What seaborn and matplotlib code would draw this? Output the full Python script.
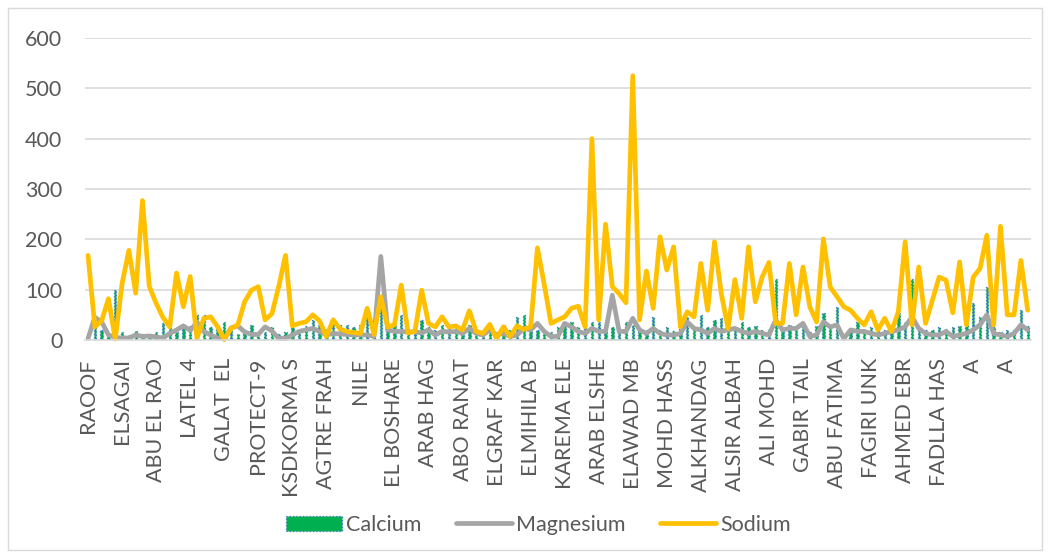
import numpy as np
import pandas as pd
import seaborn as sns
import matplotlib.pyplot as plt
from matplotlib.patches import Patch, Rectangle
from matplotlib.lines import Line2D

# every 5th well name is shown on the axis
tick_names = ["RAOOF", "ELSAGAI", "ABU EL RAO", "LATEL 4", "GALAT  EL", "PROTECT-9",
              "KSDKORMA S", "AGTRE FRAH", "NILE", "EL BOSHARE", "ARAB HAG", "ABO RANAT",
              "ELGRAF KAR", "ELMIHILA B", "KAREMA ELE", "ARAB ELSHE", "ELAWAD MB",
              "MOHD HASS", "ALKHANDAG", "ALSIR ALBAH", "ALI MOHD", "GABIR TAIL",
              "ABU FATIMA", "FAGIRI UNK", "AHMED EBR", "FADLLA HAS", "A", "A"]

calcium = [5, 25, 20, 10, 99, 15, 10, 18, 12, 8, 15, 33, 26, 15, 28, 28, 50, 50, 26, 28,
           36, 22, 12, 20, 30, 15, 15, 26, 12, 15, 25, 20, 28, 40, 30, 22, 32, 30, 30, 25,
           30, 45, 20, 70, 30, 30, 50, 20, 28, 40, 25, 20, 30, 25, 30, 20, 30, 20, 18, 28,
           15, 30, 20, 46, 50, 20, 20, 18, 15, 25, 30, 35, 25, 43, 36, 36, 20, 25, 20, 36,
           30, 15, 20, 46, 20, 25, 18, 22, 46, 20, 50, 25, 40, 43, 25, 25, 35, 25, 28, 20,
           22, 122, 20, 30, 25, 30, 15, 28, 53, 25, 66, 10, 20, 36, 20, 25, 20, 20, 30, 53,
           35, 122, 25, 20, 20, 25, 22, 25, 28, 30, 73, 45, 106, 25, 15, 20, 20, 59, 28]

magnesium = [3, 45, 36, 10, 5, 4, 4, 10, 7, 8, 6, 4, 13, 20, 28, 19, 35, 17, 10, 4,
             2, 24, 28, 16, 11, 11, 26, 18, 3, 3, 10, 17, 20, 23, 17, 10, 13, 12, 11, 10,
             10, 10, 7, 166, 20, 17, 17, 16, 16, 14, 20, 10, 17, 16, 17, 13, 23, 13, 10, 20,
             10, 13, 7, 10, 23, 20, 33, 17, 7, 7, 33, 26, 17, 13, 23, 17, 17, 89, 17, 17,
             43, 20, 13, 23, 13, 10, 10, 13, 36, 23, 20, 13, 23, 17, 20, 23, 17, 13, 17, 13,
             10, 40, 20, 23, 23, 33, 7, 10, 36, 26, 30, 3, 20, 17, 17, 13, 10, 13, 17, 20,
             26, 46, 23, 13, 10, 10, 17, 7, 10, 13, 20, 30, 50, 13, 10, 7, 13, 30, 20]

sodium = [168, 26, 38, 82, 2, 112, 178, 93, 277, 106, 73, 45, 26, 133, 66, 126, 3, 43, 46, 27,
          1, 23, 30, 76, 99, 106, 40, 52, 106, 168, 28, 33, 36, 50, 38, 7, 40, 22, 17, 15,
          13, 63, 11, 86, 26, 30, 109, 14, 17, 99, 33, 26, 46, 26, 28, 20, 58, 17, 13, 31,
          3, 26, 7, 28, 21, 26, 183, 110, 33, 40, 46, 63, 67, 26, 400, 40, 230, 106, 92, 74,
          525, 40, 137, 63, 205, 139, 185, 26, 56, 46, 152, 59, 195, 92, 23, 120, 43, 185, 76, 125,
          154, 33, 33, 152, 50, 145, 66, 36, 201, 105, 86, 66, 59, 43, 30, 56, 20, 43, 17, 56,
          195, 30, 145, 33, 79, 125, 119, 54, 155, 30, 125, 142, 208, 30, 226, 50, 50, 158, 59]

idx = np.arange(len(sodium))
df = pd.DataFrame({"site": idx, "Calcium": calcium, "Magnesium": magnesium, "Sodium": sodium})

sns.set_theme(style="white")
plt.rcParams['font.family'] = ['Lato', 'DejaVu Sans']

fig = plt.figure(figsize=(10.5, 5.59), dpi=100)
ax = fig.add_axes([0.0806, 0.3918, 0.9014, 0.5402])

sns.barplot(data=df, x="site", y="Calcium", color="#00B050", width=0.35, errorbar=None,
            edgecolor="#4472C4", linestyle=":", linewidth=0.9, saturation=1, ax=ax)
sns.lineplot(data=df, x="site", y="Magnesium", color="#A5A5A5", linewidth=3.4,
             solid_joinstyle="round", solid_capstyle="round", clip_on=False, ax=ax)
sns.lineplot(data=df, x="site", y="Sodium", color="#FFC000", linewidth=3.4,
             solid_joinstyle="round", solid_capstyle="round", clip_on=False, ax=ax)

ax.set_xlim(-0.5, len(idx) - 0.5)
ax.set_ylim(0, 600)
ax.set_yticks(range(0, 601, 100))
ax.set_xticks(range(0, len(idx), 5))
ax.set_xticklabels(tick_names, rotation=90)
ax.tick_params(axis="x", length=0, pad=13, labelsize=15.5, labelcolor="#595959")
ax.tick_params(axis="y", length=0, pad=16, labelsize=15.5, labelcolor="#595959")
ax.set_xlabel("")
ax.set_ylabel("")
ax.grid(axis="y", color="#D9D9D9", linewidth=1.2)
ax.set_axisbelow(True)
for s in ["top", "right", "left"]:
    ax.spines[s].set_visible(False)
ax.spines["bottom"].set_color("#D9D9D9")
ax.spines["bottom"].set_linewidth(1.2)

handles = [Patch(facecolor="#00B050", edgecolor="#4472C4", linestyle=":", linewidth=0.9),
           Line2D([], [], color="#A5A5A5", linewidth=3.4, solid_capstyle="round"),
           Line2D([], [], color="#FFC000", linewidth=3.4, solid_capstyle="round")]
fig.legend(handles, ["Calcium", "Magnesium", "Sodium"], loc="center", ncol=3,
           bbox_to_anchor=(0.513, 0.061), frameon=False, fontsize=15.5, labelcolor="#595959",
           handlelength=2.6, handletextpad=0.2, columnspacing=1.6)

fig.patches.append(Rectangle((0.008, 0.016), 0.984, 0.97, transform=fig.transFigure,
                             fill=False, edgecolor="#D9D9D9", linewidth=1))

fig.savefig("out.png", dpi=100)
